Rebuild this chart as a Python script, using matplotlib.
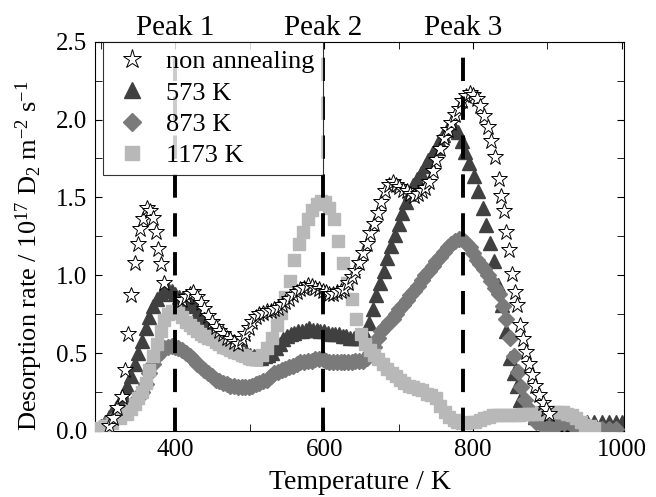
import matplotlib
matplotlib.use("Agg")
import matplotlib.pyplot as plt
from matplotlib.ticker import MultipleLocator

plt.rcParams['font.family'] = ['Liberation Serif', 'DejaVu Serif']
plt.rcParams['mathtext.fontset'] = 'custom'
plt.rcParams['mathtext.rm'] = 'Liberation Serif'
plt.rcParams['mathtext.it'] = 'Liberation Serif:italic'

# non annealing (stars)
t_non = [310, 316, 322, 328, 332, 336, 340, 345, 349, 353,
         357, 362, 366, 370, 374, 377, 381, 384, 409, 414,
         419, 424, 429, 434, 439, 444, 449, 454, 459, 464,
         469, 474, 479, 484, 489, 494, 499, 503, 508, 513,
         518, 523, 528, 533, 538, 543, 548, 553, 558, 563,
         568, 573, 578, 583, 588, 593, 598, 602, 607, 612,
         617, 622, 627, 632, 637, 642, 647, 652, 657, 662,
         667, 672, 677, 682, 687, 692, 697, 701, 706, 711,
         716, 721, 726, 731, 736, 741, 746, 751, 756, 761,
         766, 771, 776, 781, 786, 791, 796, 800, 805, 810,
         815, 820, 825, 830, 835, 838, 842, 845, 849, 852,
         856, 859, 863, 867, 871, 875, 879, 884, 889, 894,
         898, 902]
r_non = [0.03, 0.08, 0.15, 0.22, 0.39, 0.62, 0.87, 1.08, 1.20, 1.30,
         1.36, 1.43, 1.41, 1.37, 1.28, 1.17, 1.07, 0.95, 0.84, 0.86,
         0.88, 0.89, 0.86, 0.82, 0.78, 0.74, 0.70, 0.67, 0.64, 0.62,
         0.60, 0.59, 0.57, 0.56, 0.59, 0.62, 0.66, 0.70, 0.73, 0.75,
         0.76, 0.77, 0.77, 0.78, 0.79, 0.81, 0.83, 0.85, 0.87, 0.89,
         0.91, 0.92, 0.94, 0.93, 0.92, 0.91, 0.90, 0.89, 0.88, 0.88,
         0.89, 0.90, 0.91, 0.95, 0.99, 1.03, 1.08, 1.14, 1.20, 1.27,
         1.33, 1.40, 1.47, 1.54, 1.58, 1.60, 1.58, 1.57, 1.55, 1.54,
         1.52, 1.51, 1.52, 1.54, 1.56, 1.60, 1.67, 1.74, 1.81, 1.88,
         1.93, 1.98, 2.03, 2.07, 2.12, 2.15, 2.17, 2.16, 2.13, 2.09,
         2.02, 1.95, 1.86, 1.76, 1.62, 1.51, 1.41, 1.28, 1.16, 1.01,
         0.89, 0.81, 0.68, 0.59, 0.51, 0.43, 0.36, 0.29, 0.23, 0.18,
         0.14, 0.11]

# 573 K (triangles)
t_573 = [300, 305, 310, 315, 320, 325, 330, 335, 340, 345,
         350, 355, 360, 365, 370, 375, 380, 385, 390, 395,
         400, 405, 410, 415, 420, 425, 430, 435, 440, 445,
         450, 455, 460, 465, 470, 475, 480, 485, 490, 495,
         500, 505, 510, 515, 520, 525, 530, 535, 540, 545,
         550, 555, 560, 565, 570, 575, 580, 585, 590, 595,
         600, 605, 610, 615, 620, 625, 630, 635, 640, 645,
         650, 655, 660, 665, 670, 675, 680, 685, 690, 695,
         700, 705, 710, 715, 720, 725, 730, 735, 740, 745,
         750, 755, 760, 765, 770, 775, 780, 785, 790, 795,
         801, 807, 813, 818, 823, 828, 834, 839, 845, 850,
         855, 859, 864, 869, 874, 884, 893, 903, 913, 923,
         933, 943, 953, 963, 973, 983, 993, 1000]
r_573 = [0.03, 0.06, 0.09, 0.12, 0.15, 0.19, 0.23, 0.29, 0.35, 0.43,
         0.50, 0.58, 0.66, 0.73, 0.80, 0.85, 0.88, 0.90, 0.91, 0.90,
         0.88, 0.86, 0.84, 0.83, 0.82, 0.80, 0.77, 0.75, 0.72, 0.69,
         0.66, 0.64, 0.62, 0.60, 0.58, 0.56, 0.55, 0.54, 0.53, 0.51,
         0.49, 0.48, 0.47, 0.47, 0.48, 0.49, 0.50, 0.53, 0.56, 0.59,
         0.61, 0.62, 0.63, 0.64, 0.64, 0.65, 0.66, 0.65, 0.65, 0.64,
         0.64, 0.63, 0.62, 0.62, 0.62, 0.61, 0.61, 0.60, 0.60, 0.60,
         0.60, 0.62, 0.69, 0.78, 0.87, 0.95, 1.03, 1.11, 1.19, 1.26,
         1.33, 1.40, 1.47, 1.53, 1.58, 1.62, 1.66, 1.70, 1.74, 1.78,
         1.82, 1.86, 1.90, 1.93, 1.95, 1.95, 1.92, 1.86, 1.79, 1.72,
         1.64, 1.54, 1.43, 1.32, 1.21, 1.09, 0.94, 0.81, 0.64, 0.47,
         0.37, 0.29, 0.20, 0.15, 0.12, 0.09, 0.07, 0.06, 0.05, 0.05,
         0.05, 0.05, 0.06, 0.06, 0.06, 0.06, 0.06, 0.06]

# 873 K (diamonds)
t_873 = [298, 305, 315, 325, 335, 343, 350, 355, 360, 365,
         370, 375, 380, 385, 390, 395, 400, 404, 409, 414,
         419, 424, 429, 434, 439, 444, 449, 454, 459, 464,
         469, 474, 479, 484, 489, 494, 499, 503, 508, 513,
         518, 523, 528, 533, 538, 543, 548, 553, 558, 563,
         568, 573, 578, 583, 588, 593, 598, 602, 607, 612,
         617, 622, 627, 632, 637, 642, 647, 652, 657, 662,
         667, 672, 677, 682, 687, 692, 697, 701, 706, 711,
         716, 721, 726, 731, 736, 741, 746, 751, 756, 761,
         766, 771, 776, 781, 786, 791, 796, 800, 805, 810,
         815, 820, 825, 830, 835, 840, 845, 850, 855, 860,
         865, 870, 875, 880, 885, 894, 903, 913, 923, 933,
         943, 953, 963, 973, 983, 993]
r_873 = [0.02, 0.04, 0.07, 0.10, 0.13, 0.16, 0.21, 0.25, 0.30, 0.37,
         0.43, 0.48, 0.51, 0.53, 0.54, 0.545, 0.54, 0.53, 0.52, 0.50,
         0.48, 0.46, 0.43, 0.41, 0.39, 0.37, 0.35, 0.33, 0.32, 0.31,
         0.30, 0.29, 0.29, 0.28, 0.28, 0.28, 0.28, 0.29, 0.30, 0.31,
         0.32, 0.33, 0.35, 0.37, 0.38, 0.39, 0.40, 0.41, 0.42, 0.43,
         0.44, 0.44, 0.45, 0.45, 0.46, 0.46, 0.46, 0.45, 0.44, 0.44,
         0.44, 0.44, 0.44, 0.44, 0.44, 0.45, 0.45, 0.45, 0.47, 0.50,
         0.54, 0.60, 0.64, 0.67, 0.70, 0.72, 0.75, 0.78, 0.81, 0.84,
         0.87, 0.90, 0.93, 0.97, 1.00, 1.03, 1.06, 1.09, 1.12, 1.15,
         1.18, 1.20, 1.22, 1.23, 1.23, 1.21, 1.18, 1.14, 1.10, 1.07,
         1.04, 1.00, 0.96, 0.92, 0.88, 0.80, 0.72, 0.60, 0.48, 0.38,
         0.28, 0.20, 0.14, 0.10, 0.06, 0.03, 0.02, 0.04, 0.05, 0.04,
         0.02, 0.01, 0.01, 0.01, 0.01, 0.01]

# 1173 K (squares)
t_1173 = [298, 305, 315, 325, 335, 340, 345, 350, 355, 360,
          365, 370, 375, 380, 385, 390, 395, 400, 404, 409,
          414, 419, 424, 429, 434, 439, 444, 449, 454, 459,
          464, 469, 474, 479, 484, 489, 494, 499, 503, 508,
          516, 523, 530, 536, 542, 548, 554, 560, 566, 572,
          578, 584, 590, 596, 601, 607, 613, 619, 625, 631,
          637, 643, 649, 655, 661, 667, 673, 679, 685, 691,
          696, 702, 708, 714, 720, 726, 732, 738, 744, 750,
          756, 762, 768, 774, 779, 785, 791, 797, 803, 809,
          815, 821, 827, 832, 838, 844, 850, 856, 862, 868,
          874, 880, 886, 891, 897, 903, 909, 915, 921, 927,
          933, 939, 945, 951, 957, 963]
r_1173 = [0.02, 0.03, 0.05, 0.08, 0.11, 0.14, 0.17, 0.21, 0.25, 0.31,
          0.39, 0.48, 0.56, 0.64, 0.71, 0.75, 0.77, 0.77, 0.76, 0.73,
          0.70, 0.68, 0.66, 0.64, 0.62, 0.61, 0.60, 0.59, 0.57, 0.56,
          0.54, 0.53, 0.52, 0.51, 0.50, 0.49, 0.48, 0.47, 0.46, 0.46,
          0.49, 0.53, 0.60, 0.68, 0.76, 0.86, 0.96, 1.10, 1.20, 1.28,
          1.36, 1.42, 1.46, 1.48, 1.47, 1.43, 1.36, 1.22, 1.08, 0.95,
          0.85, 0.72, 0.62, 0.56, 0.52, 0.49, 0.46, 0.43, 0.40, 0.37,
          0.35, 0.33, 0.31, 0.29, 0.28, 0.27, 0.26, 0.24, 0.23, 0.21,
          0.16, 0.12, 0.09, 0.07, 0.06, 0.05, 0.05, 0.06, 0.06, 0.07,
          0.08, 0.09, 0.10, 0.10, 0.10, 0.10, 0.10, 0.10, 0.10, 0.11,
          0.11, 0.11, 0.11, 0.12, 0.12, 0.12, 0.12, 0.12, 0.12, 0.11,
          0.10, 0.08, 0.06, 0.04, 0.03, 0.02]

peak_pos = [400, 598, 787]
peak_names = ["Peak 1", "Peak 2", "Peak 3"]

fig = plt.figure(figsize=(6.56, 4.97), dpi=100)
ax = fig.add_axes([0.145, 0.133, 0.806, 0.783])

ax.plot(t_573, r_573, ls='none', marker='^', ms=10, color='#404040',
        mec='#404040', label='573 K', zorder=2)
ax.plot(t_873, r_873, ls='none', marker='D', ms=8, color='#7a7a7a',
        mec='#7a7a7a', label='873 K', zorder=3)
ax.plot(t_1173, r_1173, ls='none', marker='s', ms=9, color='#b8b8b8',
        mec='#b8b8b8', label='1173 K', zorder=4)
ax.plot(t_non, r_non, ls='none', marker='*', ms=12, mfc='white',
        mec='black', mew=0.7, label='non annealing', zorder=5)

# linhas tracejadas dos picos
for p, name in zip(peak_pos, peak_names):
    ax.axvline(p, ymin=0, ymax=1.0, color='black', lw=2.8,
               dashes=(6, 4), zorder=6)
    ax.text(p, 2.545, name, ha='center', va='baseline', fontsize=21)

ax.set_xlim(292, 1003)
ax.set_ylim(0, 2.5)
ax.xaxis.set_major_locator(MultipleLocator(200))
ax.xaxis.set_minor_locator(MultipleLocator(100))
ax.yaxis.set_major_locator(MultipleLocator(0.5))
ax.yaxis.set_minor_locator(MultipleLocator(0.25))
ax.yaxis.set_major_formatter(plt.FormatStrFormatter('%.1f'))
ax.tick_params(which='both', direction='in', top=True, right=True,
               labelsize=18)
ax.tick_params(which='major', length=5, pad=6)
ax.tick_params(which='minor', length=5)

ax.set_xlabel('Temperature / K', fontsize=20, labelpad=6)
ax.set_ylabel(r'Desorption rate / 10$^{17}$ D$_2$ m$^{-2}$ s$^{-1}$',
              fontsize=19)
ax.yaxis.set_label_coords(-0.095, 0.45)

handles, labels = ax.get_legend_handles_labels()
order = [3, 0, 1, 2]
leg = ax.legend([handles[i] for i in order], [labels[i] for i in order],
                loc='upper left', bbox_to_anchor=(0.015, 1.0),
                borderaxespad=0, fontsize=19, frameon=True, fancybox=False,
                edgecolor='black', handletextpad=0.5, labelspacing=0.3,
                handlelength=1.6, markerscale=1.15, borderpad=0.3)
leg.get_frame().set_linewidth(0.8)
leg.set_zorder(7)

fig.savefig('out.png', dpi=100)
